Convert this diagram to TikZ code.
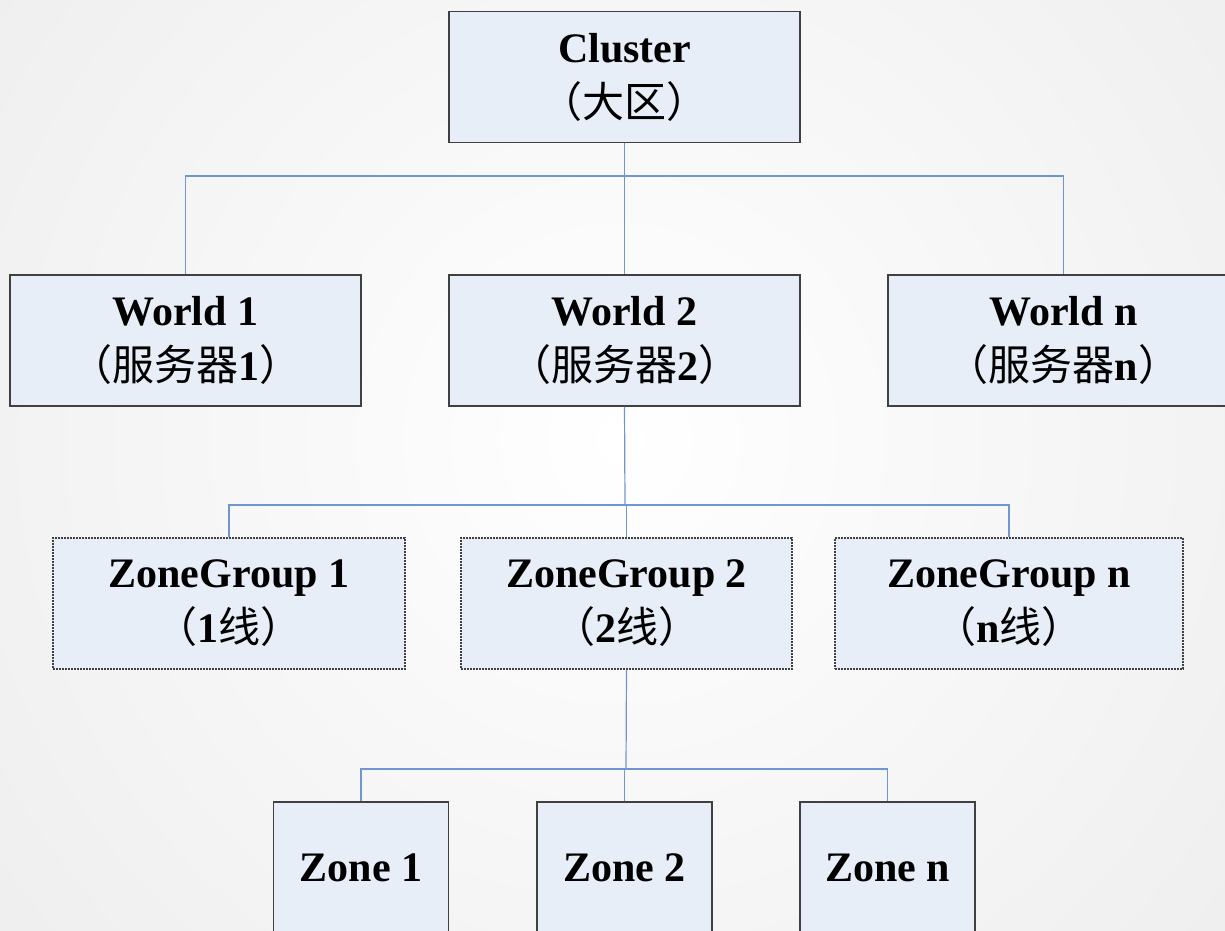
\documentclass[tikz,border=0pt]{standalone}
\usepackage{fontspec}
\setmainfont{Liberation Serif}
\newfontfamily\cjk{Noto Sans CJK SC}
\newcommand{\zh}[1]{{\cjk\mdseries #1}}
\definecolor{boxfill}{HTML}{E8EEF8}
\definecolor{boxline}{HTML}{404040}
\definecolor{conn}{HTML}{7096D2}
\begin{document}
\begin{tikzpicture}[x=1pt,y=-1pt,
  box/.style={draw=boxline, line width=1.2pt, fill=boxfill, inner sep=0pt,
    align=center, font=\fontsize{42}{55}\selectfont\bfseries, text=black},
  bigbox/.style={box, minimum width=351pt, minimum height=131pt},
  zgbox/.style={box, dash pattern=on 2pt off 1pt, minimum height=131pt},
  zonebox/.style={box, minimum width=175pt, minimum height=131pt},
  link/.style={draw=conn, line width=1.2pt}]
\useasboundingbox (0,0) rectangle (1225,930);
\clip (0,0) rectangle (1225,930);
\shade[inner color=white, outer color=black!13] (620,440) circle (1600);
% level 0
\node[bigbox] (cl) at (624.5,77) {Cluster\\\zh{（大区）}};
% level 1
\node[bigbox] (w1) at (185.5,340.5) {World 1\\\zh{（服务器}1\zh{）}};
\node[bigbox] (w2) at (624.5,340.5) {World 2\\\zh{（服务器}2\zh{）}};
\node[bigbox] (wn) at (1063.5,340.5) {World n\\\zh{（服务器}n\zh{）}};
% level 2
\node[zgbox, minimum width=352pt] (zg1) at (229,603.5) {ZoneGroup 1\\\zh{（}1\zh{线）}};
\node[zgbox, minimum width=331pt] (zg2) at (626.5,603.5) {ZoneGroup 2\\\zh{（}2\zh{线）}};
\node[zgbox, minimum width=348pt] (zgn) at (1009,603.5) {ZoneGroup n\\\zh{（}n\zh{线）}};
% level 3
\node[zonebox] (z1) at (361,867.5) {Zone 1};
\node[zonebox] (z2) at (624.5,867.5) {Zone 2};
\node[zonebox] (zn) at (887.5,867.5) {Zone n};
% buses
\coordinate (b0) at (624.5,176);
\coordinate (b1) at (625,505);
\coordinate (b2) at (626,769);
\draw[link] (cl.south) -- (b0);
\draw[link] (b0) -| (w1.north);
\draw[link] (b0) -- (w2.north);
\draw[link] (b0) -| (wn.north);
\draw[link] (w2.south) -- (b1);
\draw[link] (b1) -| (zg1.north);
\draw[link] (b1) -| (zg2.north);
\draw[link] (b1) -| (zgn.north);
\draw[link] (zg2.south) -- (b2);
\draw[link] (b2) -| (z1.north);
\draw[link] (b2) -| (z2.north);
\draw[link] (b2) -| (zn.north);
\end{tikzpicture}
\end{document}
